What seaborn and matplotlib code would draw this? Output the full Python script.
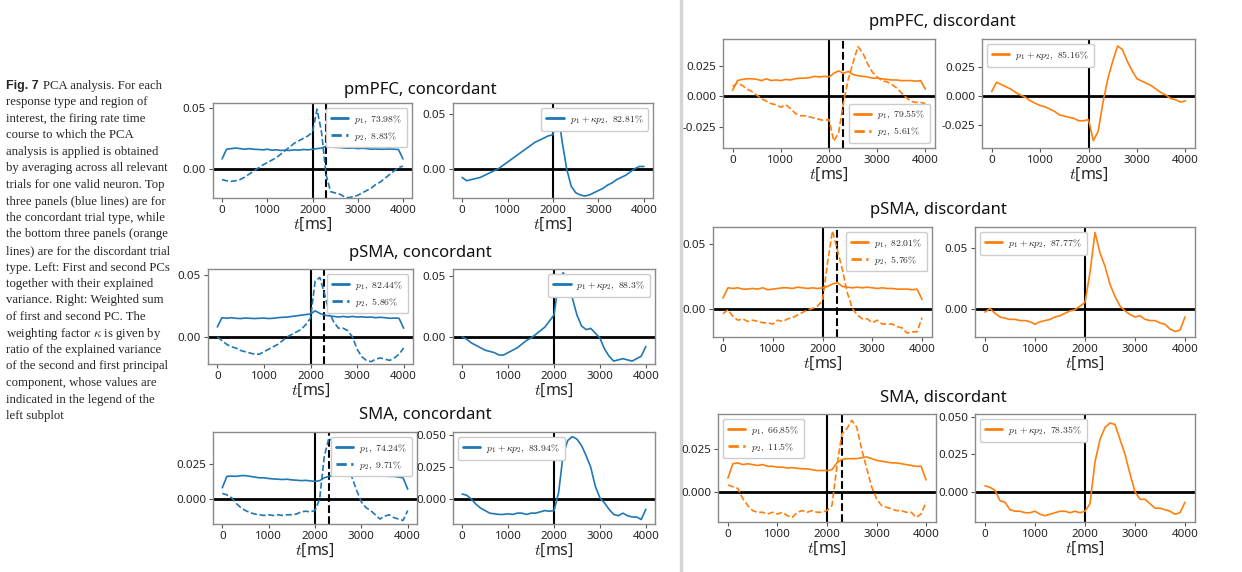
import matplotlib
matplotlib.use("Agg")
import matplotlib.pyplot as plt
import seaborn as sns
from matplotlib.lines import Line2D

# ---------------- data ----------------
t_ms = list(range(0, 4001, 100))

# concordant, pmPFC
con_pmpfc_p1 = [0.008, 0.016, 0.0165, 0.017, 0.0165, 0.016, 0.0165, 0.016, 0.0158, 0.0155,
                0.016, 0.0152, 0.0155, 0.015, 0.0152, 0.015, 0.0155, 0.0152, 0.0158, 0.0155,
                0.016, 0.0165, 0.017, 0.0185, 0.018, 0.0175, 0.0175, 0.017, 0.0168, 0.017,
                0.0165, 0.0168, 0.0165, 0.016, 0.0162, 0.016, 0.016, 0.0162, 0.016, 0.0158,
                0.008]
con_pmpfc_p2 = [-0.009, -0.010, -0.0105, -0.010, -0.009, -0.007, -0.0045, -0.002, 0.0005, 0.003,
                0.005, 0.007, 0.009, 0.012, 0.015, 0.018, 0.021, 0.023, 0.025, 0.027,
                0.030, 0.049, 0.030, -0.005, -0.019, -0.020, -0.021, -0.023, -0.024, -0.023,
                -0.022, -0.020, -0.018, -0.016, -0.013, -0.011, -0.008, -0.005, -0.002, 0.001,
                0.002]
con_pmpfc_sum = [-0.008, -0.011, -0.010, -0.009, -0.008, -0.006, -0.004, -0.002, 0.000, 0.003,
                 0.006, 0.009, 0.012, 0.015, 0.018, 0.021, 0.024, 0.026, 0.028, 0.030,
                 0.031, 0.055, 0.025, 0.000, -0.016, -0.022, -0.024, -0.025, -0.024, -0.022,
                 -0.020, -0.018, -0.015, -0.013, -0.010, -0.008, -0.006, -0.003, 0.000, 0.002,
                 0.002]

# concordant, pSMA
con_psma_p1 = [0.008, 0.0155, 0.015, 0.0155, 0.015, 0.0148, 0.0152, 0.015, 0.0148, 0.015,
               0.0152, 0.0148, 0.015, 0.0155, 0.0158, 0.016, 0.0165, 0.017, 0.0175, 0.018,
               0.0185, 0.021, 0.019, 0.0175, 0.017, 0.0165, 0.016, 0.0165, 0.016, 0.0165,
               0.016, 0.0162, 0.0158, 0.016, 0.0155, 0.0158, 0.0155, 0.015, 0.0152, 0.015,
               0.007]
con_psma_p2 = [0.000, -0.003, -0.006, -0.008, -0.009, -0.011, -0.012, -0.013, -0.014, -0.014,
               -0.012, -0.010, -0.008, -0.006, -0.003, 0.000, 0.002, 0.004, 0.006, 0.010,
               0.015, 0.045, 0.048, 0.035, 0.020, 0.012, 0.007, 0.007, 0.005, 0.000,
               -0.010, -0.016, -0.019, -0.020, -0.018, -0.017, -0.018, -0.019, -0.017, -0.014,
               -0.009]
con_psma_sum = [0.000, -0.002, -0.005, -0.007, -0.009, -0.011, -0.012, -0.013, -0.015, -0.015,
                -0.013, -0.011, -0.009, -0.006, -0.003, -0.001, 0.002, 0.005, 0.008, 0.013,
                0.018, 0.045, 0.053, 0.045, 0.032, 0.018, 0.009, 0.006, 0.007, 0.003,
                -0.001, -0.010, -0.016, -0.020, -0.019, -0.018, -0.019, -0.020, -0.018, -0.016,
                -0.008]

# concordant, SMA
con_sma_p1 = [0.008, 0.016, 0.0162, 0.016, 0.0165, 0.0165, 0.016, 0.0155, 0.015, 0.015,
              0.0145, 0.0142, 0.014, 0.0138, 0.014, 0.0135, 0.0133, 0.013, 0.0132, 0.0128,
              0.0125, 0.013, 0.015, 0.016, 0.0165, 0.017, 0.018, 0.019, 0.0205, 0.0195,
              0.019, 0.0185, 0.018, 0.0175, 0.017, 0.0165, 0.016, 0.016, 0.0155, 0.015,
              0.007]
con_sma_p2 = [0.004, 0.003, 0.001, -0.003, -0.006, -0.008, -0.0095, -0.0105, -0.011, -0.0115,
              -0.011, -0.0115, -0.011, -0.0115, -0.011, -0.011, -0.0105, -0.009, -0.0085, -0.009,
              -0.008, 0.000, 0.030, 0.043, 0.040, 0.041, 0.033, 0.024, 0.015, 0.006,
              -0.002, -0.006, -0.008, -0.011, -0.014, -0.012, -0.011, -0.013, -0.014, -0.015,
              -0.008]
con_sma_sum = [0.004, 0.003, 0.000, -0.004, -0.007, -0.009, -0.011, -0.0115, -0.012, -0.012,
               -0.0115, -0.012, -0.011, -0.011, -0.012, -0.011, -0.011, -0.010, -0.009, -0.0095,
               -0.009, 0.005, 0.035, 0.046, 0.049, 0.047, 0.042, 0.034, 0.025, 0.010,
               0.001, -0.003, -0.008, -0.012, -0.013, -0.011, -0.013, -0.014, -0.014, -0.016,
               -0.008]

# discordant, pmPFC
dis_pmpfc_p1 = [0.005, 0.013, 0.014, 0.0145, 0.0145, 0.014, 0.013, 0.0145, 0.013, 0.0135,
                0.013, 0.014, 0.0135, 0.0145, 0.015, 0.015, 0.0155, 0.0165, 0.016, 0.0165,
                0.016, 0.019, 0.021, 0.019, 0.0205, 0.018, 0.017, 0.0165, 0.016, 0.015,
                0.015, 0.0145, 0.014, 0.0135, 0.0135, 0.013, 0.013, 0.013, 0.0125, 0.013,
                0.006]
dis_pmpfc_p2 = [0.008, 0.011, 0.009, 0.006, 0.004, 0.001, -0.002, -0.004, -0.006, -0.007,
                -0.009, -0.007, -0.010, -0.014, -0.016, -0.016, -0.017, -0.018, -0.019, -0.020,
                -0.019, -0.037, -0.030, -0.005, 0.014, 0.028, 0.041, 0.036, 0.027, 0.020,
                0.016, 0.013, 0.012, 0.010, 0.007, 0.003, -0.001, -0.004, -0.005, -0.005,
                -0.006]
dis_pmpfc_sum = [0.004, 0.012, 0.010, 0.008, 0.006, 0.003, 0.001, -0.001, -0.004, -0.006,
                 -0.008, -0.009, -0.011, -0.013, -0.016, -0.017, -0.018, -0.019, -0.021, -0.021,
                 -0.020, -0.038, -0.030, -0.005, 0.015, 0.030, 0.043, 0.040, 0.030, 0.022,
                 0.015, 0.013, 0.011, 0.009, 0.006, 0.003, 0.001, -0.002, -0.003, -0.005,
                 -0.004]

# discordant, pSMA
dis_psma_p1 = [0.008, 0.016, 0.0155, 0.016, 0.015, 0.015, 0.0155, 0.015, 0.016, 0.0145,
               0.015, 0.0155, 0.016, 0.016, 0.0155, 0.0165, 0.016, 0.0155, 0.016, 0.0155,
               0.016, 0.017, 0.019, 0.020, 0.017, 0.0165, 0.016, 0.0165, 0.016, 0.0165,
               0.016, 0.0155, 0.016, 0.0155, 0.0155, 0.015, 0.015, 0.015, 0.0145, 0.015,
               0.007]
dis_psma_p2 = [-0.004, -0.001, -0.006, -0.009, -0.008, -0.010, -0.009, -0.010, -0.011, -0.011,
               -0.012, -0.009, -0.010, -0.008, -0.007, -0.005, -0.003, -0.001, 0.000, 0.002,
               0.006, 0.035, 0.060, 0.045, 0.030, 0.012, 0.000, -0.005, -0.008, -0.008,
               -0.011, -0.009, -0.012, -0.012, -0.012, -0.014, -0.015, -0.019, -0.018, -0.018,
               -0.007]
dis_psma_sum = [-0.003, 0.000, -0.004, -0.007, -0.008, -0.009, -0.009, -0.010, -0.010, -0.011,
                -0.013, -0.011, -0.010, -0.009, -0.007, -0.006, -0.004, -0.002, -0.001, 0.002,
                0.005, 0.030, 0.063, 0.046, 0.035, 0.020, 0.010, 0.002, -0.002, -0.005,
                -0.007, -0.006, -0.009, -0.010, -0.010, -0.012, -0.013, -0.017, -0.019, -0.018,
                -0.007]

# discordant, SMA
dis_sma_p1 = [0.008, 0.0165, 0.017, 0.016, 0.0165, 0.016, 0.0155, 0.016, 0.015, 0.015,
              0.0145, 0.0145, 0.014, 0.0142, 0.0138, 0.0135, 0.0135, 0.013, 0.0125, 0.0125,
              0.0125, 0.013, 0.017, 0.019, 0.0195, 0.0195, 0.0195, 0.020, 0.0205, 0.0195,
              0.0185, 0.018, 0.0175, 0.017, 0.017, 0.0165, 0.016, 0.0155, 0.015, 0.015,
              0.007]
dis_sma_p2 = [0.004, 0.003, 0.002, -0.004, -0.008, -0.011, -0.012, -0.012, -0.013, -0.012,
              -0.013, -0.012, -0.014, -0.015, -0.012, -0.011, -0.012, -0.011, -0.012, -0.012,
              -0.011, -0.008, 0.015, 0.034, 0.037, 0.042, 0.038, 0.025, 0.014, 0.003,
              -0.004, -0.008, -0.009, -0.010, -0.011, -0.011, -0.012, -0.012, -0.015, -0.013,
              -0.006]
dis_sma_sum = [0.004, 0.003, 0.001, -0.006, -0.007, -0.012, -0.013, -0.013, -0.014, -0.014,
               -0.013, -0.015, -0.016, -0.015, -0.014, -0.013, -0.013, -0.014, -0.013, -0.014,
               -0.013, -0.008, 0.020, 0.035, 0.043, 0.046, 0.045, 0.035, 0.025, 0.012,
               0.000, -0.005, -0.005, -0.008, -0.011, -0.011, -0.012, -0.013, -0.015, -0.014,
               -0.007]

# explained variances (legend text)
var_con_pmpfc = ["73.98", "8.83", "82.81"]
var_con_psma = ["82.44", "5.86", "88.3"]
var_con_sma = ["74.24", "9.71", "83.94"]
var_dis_pmpfc = ["79.55", "5.61", "85.16"]
var_dis_psma = ["82.01", "5.76", "87.77"]
var_dis_sma = ["66.85", "11.5", "78.35"]

titles = ["pmPFC, concordant", "pSMA, concordant", "SMA, concordant",
          "pmPFC, discordant", "pSMA, discordant", "SMA, discordant"]

yticks_sets = {
    "a": [0.00, 0.05],
    "b": [0.000, 0.025],
    "c": [0.000, 0.025, 0.050],
    "d": [-0.025, 0.000, 0.025],
}
xticks = [0, 1000, 2000, 3000, 4000]
stim_onset = 2000
resp_time = 2300

caption_lines = [
    "response type and region of",
    "interest, the firing rate time",
    "course to which the PCA",
    "analysis is applied is obtained",
    "by averaging across all relevant",
    "trials for one valid neuron. Top",
    "three panels (blue lines) are for",
    "the concordant trial type, while",
    "the bottom three panels (orange",
    "lines) are for the discordant trial",
    "type. Left: First and second PCs",
    "together with their explained",
    "variance. Right: Weighted sum",
    "of first and second PC. The",
    r"weighting factor $\kappa$ is given by",
    "ratio of the explained variance",
    "of the second and first principal",
    "component, whose values are",
    "indicated in the legend of the",
    "left subplot",
]

# ---------------- style ----------------
sns.set_style("ticks")
plt.rcParams["font.family"] = ["Noto Sans", "DejaVu Sans"]
plt.rcParams["mathtext.fontset"] = "cm"
plt.rcParams["axes.unicode_minus"] = False
plt.rcParams["axes.edgecolor"] = "#8a8a8a"
plt.rcParams["axes.linewidth"] = 1.0
plt.rcParams["xtick.color"] = "#555555"
plt.rcParams["ytick.color"] = "#555555"
plt.rcParams["xtick.labelcolor"] = "#222222"
plt.rcParams["ytick.labelcolor"] = "#222222"

BLUE = "#1f77b4"
ORANGE = "#ff7f0e"

W, H = 1242, 572
fig = plt.figure(figsize=(12.42, 5.72), dpi=100)
fig.patch.set_facecolor("white")


def add_ax(x0, x1, y0, y1):
    return fig.add_axes([x0 / W, 1 - y1 / H, (x1 - x0) / W, (y1 - y0) / H])


def style_ax(ax, ylim, yt):
    ax.set_xlim(-200, 4200)
    ax.set_ylim(*ylim)
    ax.set_xticks(xticks)
    ax.set_yticks(yt)
    if yt == yticks_sets["a"]:
        ax.set_yticklabels([f"{v:.2f}" for v in yt])
    else:
        ax.set_yticklabels([f"{v:.3f}" for v in yt])
    ax.tick_params(labelsize=8.3, length=3, width=0.8, pad=2)
    ax.set_xlabel(r"$t$[ms]", fontsize=11.5, labelpad=0)
    ax.set_ylabel("")
    for s in ax.spines.values():
        s.set_visible(True)


def finish_legend(ax, loc):
    leg = ax.legend(loc=loc, fontsize=7, frameon=True, fancybox=True,
                    edgecolor="#cccccc", framealpha=1.0, handlelength=1.8,
                    borderpad=0.5, labelspacing=0.4, handletextpad=0.6)
    for ln in leg.get_lines():
        ln.set_linewidth(2.0)


def draw_left(box, p1, p2, var, color, loc, ylim, yt):
    ax = add_ax(*box)
    ax.axhline(0, color="black", lw=2.0, zorder=1)
    ax.axvline(stim_onset, color="black", lw=1.5, zorder=1)
    ax.axvline(resp_time, color="black", lw=1.5, ls="--", zorder=1)
    sns.lineplot(x=t_ms, y=p1, ax=ax, color=color, lw=1.2,
                 label=rf"$p_1,\ {var[0]}\%$")
    sns.lineplot(x=t_ms, y=p2, ax=ax, color=color, lw=1.2, linestyle="--",
                 label=rf"$p_2,\ {var[1]}\%$")
    style_ax(ax, ylim, yt)
    finish_legend(ax, loc)
    return ax


def draw_right(box, s, var, color, loc, ylim, yt):
    ax = add_ax(*box)
    ax.axhline(0, color="black", lw=2.0, zorder=1)
    ax.axvline(stim_onset, color="black", lw=1.5, zorder=1)
    sns.lineplot(x=t_ms, y=s, ax=ax, color=color, lw=1.2,
                 label=rf"$p_1 + \kappa p_2,\ {var[2]}\%$")
    style_ax(ax, ylim, yt)
    finish_legend(ax, loc)
    return ax


# ---- concordant (left block) ----
draw_left((213, 412, 103, 198), con_pmpfc_p1, con_pmpfc_p2, var_con_pmpfc, BLUE,
          "upper right", (-0.0242, 0.0541), yticks_sets["a"])
draw_right((453, 653, 103, 198), con_pmpfc_sum, var_con_pmpfc, BLUE,
           "upper right", (-0.0268, 0.060), yticks_sets["a"])

draw_left((208, 413, 269, 364), con_psma_p1, con_psma_p2, var_con_psma, BLUE,
          "upper right", (-0.0219, 0.0548), yticks_sets["a"])
draw_right((453, 655, 269, 364), con_psma_sum, var_con_psma, BLUE,
           "upper right", (-0.0224, 0.056), yticks_sets["a"])

draw_left((213, 417, 432, 524), con_sma_p1, con_sma_p2, var_con_sma, BLUE,
          "upper right", (-0.0175, 0.0472), yticks_sets["b"])
draw_right((453, 655, 432, 524), con_sma_sum, var_con_sma, BLUE,
           "upper left", (-0.0195, 0.0526), yticks_sets["c"])

# ---- discordant (right block) ----
draw_left((723, 935, 39, 148), dis_pmpfc_p1, dis_pmpfc_p2, var_dis_pmpfc, ORANGE,
          "lower right", (-0.0426, 0.0473), yticks_sets["d"])
draw_right((982, 1195, 39, 148), dis_pmpfc_sum, var_dis_pmpfc, ORANGE,
           "upper left", (-0.0443, 0.049), yticks_sets["d"])

draw_left((713, 932, 227, 337), dis_psma_p1, dis_psma_p2, var_dis_psma, ORANGE,
          "upper right", (-0.022, 0.063), yticks_sets["a"])
draw_right((975, 1195, 227, 337), dis_psma_sum, var_dis_psma, ORANGE,
           "upper left", (-0.0236, 0.0675), yticks_sets["a"])

draw_left((718, 936, 414, 522), dis_sma_p1, dis_sma_p2, var_dis_sma, ORANGE,
          "upper left", (-0.0177, 0.0457), yticks_sets["b"])
draw_right((975, 1195, 414, 522), dis_sma_sum, var_dis_sma, ORANGE,
           "upper left", (-0.0202, 0.052), yticks_sets["c"])

# ---- row titles ----
title_pos = [(420, 90), (420, 253), (425, 415), (942, 22), (938, 210), (943, 398)]
for txt, (cx, cy) in zip(titles, title_pos):
    fig.text(cx / W, 1 - cy / H, txt, ha="center", va="center", fontsize=12,
             color="#111111")

# ---- separator (behind everything) ----
fig.add_artist(Line2D([681 / W, 681 / W], [0, 1], transform=fig.transFigure,
                      color="#d4d4d4", lw=2.5, zorder=-5))

# ---- caption ----
serif = ["Liberation Serif", "DejaVu Serif"]
y0 = 86
dy = 16.5
fig.text(6 / W, 1 - y0 / H, "Fig. 7", ha="left", va="center", fontsize=9,
         fontweight="bold", family=["Liberation Sans", "DejaVu Sans"])
fig.text(43 / W, 1 - y0 / H, "PCA analysis. For each", ha="left", va="center",
         fontsize=9.2, family=serif)
for i, line in enumerate(caption_lines):
    fig.text(6 / W, 1 - (y0 + dy * (i + 1)) / H, line, ha="left", va="center",
             fontsize=9.2, family=serif)

fig.savefig("out.png", dpi=100, facecolor="white")
